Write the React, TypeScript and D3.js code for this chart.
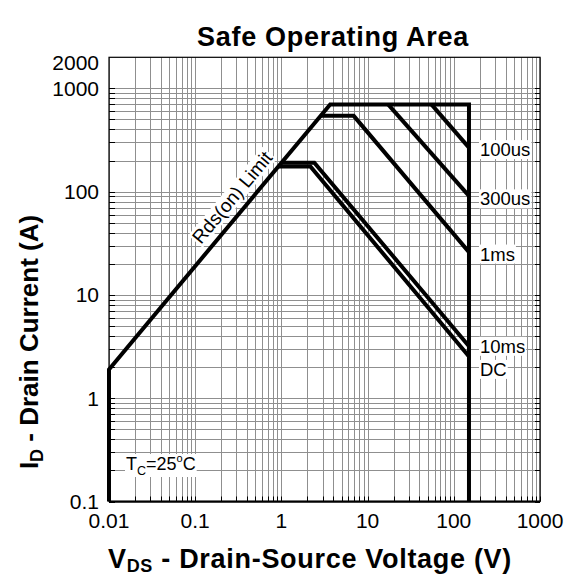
import React, { useEffect, useRef } from "react";
import * as d3 from "d3";

const W = 565;
const H = 576;
const FONT = "'Liberation Sans', Arial, Helvetica, sans-serif";

// axis ticks
const xTickValues = [0.01, 0.1, 1, 10, 100, 1000];
const xTickLabels = ["0.01", "0.1", "1", "10", "100", "1000"];
const yTickValues = [0.1, 1, 10, 100, 1000, 2000];
const yTickLabels = ["0.1", "1", "10", "100", "1000", "2000"];

// curves (V in volts, I in amps)
const limitV = [0.01, 0.01, 3.68, 150, 150];
const limitI = [0.1, 1.9, 700, 700, 0.1];
const us100V = [55, 150];
const us100I = [700, 267];
const us300V = [17.3, 150];
const us300I = [700, 91];
const ms1V = [2.85, 6.9, 150];
const ms1I = [542, 542, 26];
const ms10V = [1.0, 2.41, 150];
const ms10I = [191, 191, 3.18];
const dcV = [0.92, 2.17, 150];
const dcI = [175, 175, 2.54];

const curveNames = ["", "100us", "300us", "1ms", "10ms", "DC"];
const curveVs = [limitV, us100V, us300V, ms1V, ms10V, dcV];
const curveIs = [limitI, us100I, us300I, ms1I, ms10I, dcI];
const labelDy = [0, 2, 3, 2, 0, 13];

export default function App() {
  const ref = useRef<SVGSVGElement>(null);

  useEffect(() => {
    document.body.style.margin = "0";
    const svg = d3.select(ref.current);
    svg.selectAll("*").remove();

    const m = { left: 109, right: 540, top: 57.3, bottom: 501.5 };
    const x = d3.scaleLog().domain([0.01, 1000]).range([m.left, m.right]);
    const y = d3.scaleLog().domain([0.1, 2000]).range([m.bottom, m.top]);

    const g = svg.append("g");

    // grid
    const vLines: number[] = [];
    for (let d = 0.01; d < 999; d *= 10) for (let k = 1; k <= 9; k++) vLines.push(d * k);
    vLines.push(1000);
    const hLines: number[] = [];
    for (let d = 0.1; d < 999; d *= 10) for (let k = 1; k <= 9; k++) hLines.push(d * k);
    hLines.push(1000);

    g.selectAll(".vg").data(vLines).enter().append("line")
      .attr("x1", (d) => Math.round(x(d)) + 0.5).attr("x2", (d) => Math.round(x(d)) + 0.5)
      .attr("y1", m.top).attr("y2", m.bottom)
      .attr("stroke", "#8f8f8f").attr("stroke-width", 1);
    g.selectAll(".hg").data(hLines).enter().append("line")
      .attr("y1", (d) => Math.round(y(d)) + 0.5).attr("y2", (d) => Math.round(y(d)) + 0.5)
      .attr("x1", m.left).attr("x2", m.right)
      .attr("stroke", "#8f8f8f").attr("stroke-width", 1);

    // inward ticks
    g.selectAll(".bt").data(vLines).enter().append("line")
      .attr("x1", (d) => Math.round(x(d)) + 0.5).attr("x2", (d) => Math.round(x(d)) + 0.5)
      .attr("y1", m.bottom).attr("y2", m.bottom - 5).attr("stroke", "#000");
    g.selectAll(".lt").data(hLines).enter().append("line")
      .attr("y1", (d) => Math.round(y(d)) + 0.5).attr("y2", (d) => Math.round(y(d)) + 0.5)
      .attr("x1", m.left).attr("x2", m.left + 6).attr("stroke", "#000");
    g.selectAll(".rt").data(hLines).enter().append("line")
      .attr("y1", (d) => Math.round(y(d)) + 0.5).attr("y2", (d) => Math.round(y(d)) + 0.5)
      .attr("x1", m.right).attr("x2", m.right - 5).attr("stroke", "#000");

    // frame
    g.append("rect").attr("x", m.left).attr("y", m.top)
      .attr("width", m.right - m.left).attr("height", m.bottom - m.top)
      .attr("fill", "none").attr("stroke", "#000").attr("stroke-width", 1.2);
    g.append("line").attr("x1", m.left).attr("x2", m.right)
      .attr("y1", m.bottom).attr("y2", m.bottom).attr("stroke", "#000").attr("stroke-width", 2);

    // curves
    const line = d3.line<[number, number]>().x((d) => x(d[0])).y((d) => y(d[1]));
    curveVs.forEach((vs, i) => {
      const pts = vs.map((v, j) => [v, curveIs[i][j]] as [number, number]);
      g.append("path").attr("d", line(pts) as string)
        .attr("fill", "none").attr("stroke", "#000").attr("stroke-width", 4)
        .attr("stroke-linejoin", "miter");
    });

    // curve labels
    const addLabel = (gx: number, gy: number, txt: string, size: number) => {
      const t = g.append("text").attr("x", gx).attr("y", gy)
        .attr("dy", "0.35em").attr("font-family", FONT).attr("font-size", size).text(txt);
      const bb = (t.node() as SVGTextElement).getBBox();
      g.insert("rect", () => t.node() as any)
        .attr("x", bb.x - 1).attr("y", bb.y + 1).attr("width", bb.width + 2).attr("height", bb.height - 2)
        .attr("fill", "#fff");
    };
    curveVs.forEach((vs, i) => {
      if (!curveNames[i]) return;
      const last = vs.length - 1;
      addLabel(x(vs[last]) + 11, y(curveIs[i][last]) + labelDy[i], curveNames[i], 18.5);
    });

    // Rds(on) Limit label
    const rdsV = 0.37;
    const rdsI = (limitI[2] / limitV[2]) * rdsV;
    const ang = (Math.atan2(y(1) - y(10), x(10) - x(1)) * 180) / Math.PI;
    const rg = g.append("g")
      .attr("transform", `translate(${x(rdsV)},${y(rdsI)}) rotate(${-ang})`);
    const rt = rg.append("text").attr("x", 0).attr("y", -9).attr("text-anchor", "middle")
      .attr("font-family", FONT).attr("font-size", 19).text("Rds(on) Limit");
    const rbb = (rt.node() as SVGTextElement).getBBox();
    rg.insert("rect", () => rt.node() as any)
      .attr("x", rbb.x - 1).attr("y", rbb.y + 1).attr("width", rbb.width + 2).attr("height", rbb.height - 2)
      .attr("fill", "#fff");

    // Tc label
    const tc = g.append("text").attr("x", 126).attr("y", 470)
      .attr("font-family", FONT).attr("font-size", 18);
    tc.append("tspan").text("T");
    tc.append("tspan").attr("font-size", 12.5).attr("dy", 5).text("C");
    tc.append("tspan").attr("dy", -5).text("=25");
    tc.append("tspan").attr("font-size", 11).attr("dy", -8).text("o");
    tc.append("tspan").attr("dy", 8).text("C");
    const tbb = (tc.node() as SVGTextElement).getBBox();
    g.insert("rect", () => tc.node() as any)
      .attr("x", tbb.x - 1).attr("y", tbb.y + 2).attr("width", tbb.width + 2).attr("height", tbb.height - 3)
      .attr("fill", "#fff");

    // axis tick labels
    xTickValues.forEach((v, i) => {
      svg.append("text").attr("x", x(v)).attr("y", 528).attr("text-anchor", "middle")
        .attr("font-family", FONT).attr("font-size", 21).text(xTickLabels[i]);
    });
    yTickValues.forEach((v, i) => {
      const yy = Math.min(Math.max(y(v), 63), 504);
      svg.append("text").attr("x", 99).attr("y", yy).attr("dy", "0.35em").attr("text-anchor", "end")
        .attr("font-family", FONT).attr("font-size", 21).text(yTickLabels[i]);
    });

    // title
    svg.append("text").attr("x", 333).attr("y", 46).attr("text-anchor", "middle")
      .attr("font-family", FONT).attr("font-weight", "bold").attr("font-size", 27)
      .attr("letter-spacing", 0.7)
      .text("Safe Operating Area");

    // x axis title
    const xt = svg.append("text").attr("x", 310).attr("y", 568).attr("text-anchor", "middle")
      .attr("font-family", FONT).attr("font-weight", "bold").attr("font-size", 27)
      .attr("letter-spacing", 0.7);
    xt.append("tspan").text("V");
    xt.append("tspan").attr("font-size", 18).attr("dy", 4).text("DS");
    xt.append("tspan").attr("dy", -4).text(" - Drain-Source Voltage (V)");

    // y axis title
    const yt = svg.append("text").attr("transform", `translate(38,342) rotate(-90)`)
      .attr("text-anchor", "middle")
      .attr("font-family", FONT).attr("font-weight", "bold").attr("font-size", 26);
    yt.append("tspan").text("I");
    yt.append("tspan").attr("font-size", 18).attr("dy", 5).text("D");
    yt.append("tspan").attr("dy", -5).text(" - Drain Current (A)");
  }, []);

  return (
    <svg ref={ref} width={W} height={H}
      style={{ position: "absolute", left: 0, top: 0, background: "#fff" }} />
  );
}
